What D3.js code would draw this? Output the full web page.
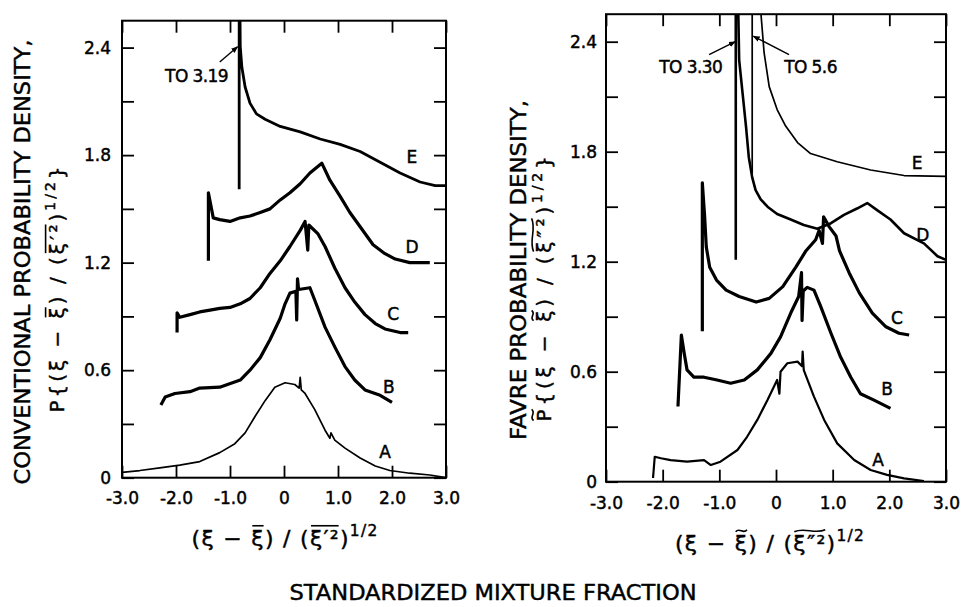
<!DOCTYPE html>
<html>
<head>
<meta charset="utf-8">
<title>standardized mixture fraction pdf</title>
<style>
  body { margin: 0; background: #fff; }
  svg { display: block; }
  text { font-family: "DejaVu Sans", "Liberation Sans", sans-serif; fill: #000; stroke: #000; stroke-width: 0.45px; }
</style>
</head>
<body>
<main></main>
<script src="https://cdn.jsdelivr.net/npm/d3@7"></script>
<script>
// ticks shared by both panels
var xTicks = [-3, -2, -1, 0, 1, 2, 3];
var yTicks = [0, 0.6, 1.2, 1.8, 2.4];
var yMinorTicks = [0.3, 0.9, 1.5, 2.1];
var curveNames = ["A", "B", "C", "D", "E"];

// conventional pdf, left panel  [x, p]
var convA = [[-3.0,0.03],[-2.67,0.04],[-2.30,0.055],[-1.93,0.07],[-1.56,0.09],[-1.19,0.14],[-0.91,0.19],
  [-0.72,0.25],[-0.54,0.34],[-0.35,0.43],[-0.17,0.505],[0.02,0.53],[0.20,0.52],[0.28,0.50],[0.30,0.56],
  [0.32,0.49],[0.39,0.47],[0.57,0.38],[0.76,0.265],[0.85,0.22],[0.87,0.25],[0.94,0.21],[1.13,0.165],
  [1.41,0.11],[1.69,0.065],[1.96,0.04],[2.33,0.025],[2.70,0.015],[3.0,0.0]];
var convB = [[-2.28,0.405],[-2.20,0.45],[-2.02,0.47],[-1.74,0.48],[-1.56,0.50],[-1.19,0.505],[-0.81,0.545],
  [-0.63,0.60],[-0.44,0.67],[-0.26,0.77],[-0.07,0.89],[0.02,0.97],[0.11,1.03],[0.22,1.04],[0.235,0.88],
  [0.25,1.11],[0.27,1.05],[0.48,1.06],[0.57,0.99],[0.76,0.84],[0.94,0.73],[1.13,0.62],[1.31,0.545],
  [1.50,0.49],[1.78,0.46],[2.0,0.42]];
var convC = [[-1.98,0.81],[-1.98,0.92],[-1.93,0.895],[-1.74,0.91],[-1.56,0.925],[-1.37,0.935],[-1.19,0.945],
  [-1.0,0.95],[-0.81,0.97],[-0.63,1.0],[-0.44,1.06],[-0.26,1.14],[-0.07,1.21],[0.11,1.29],[0.30,1.38],
  [0.39,1.43],[0.44,1.27],[0.46,1.41],[0.63,1.36],[0.76,1.29],[0.94,1.17],[1.13,1.06],[1.31,0.98],
  [1.50,0.91],[1.69,0.86],[1.87,0.83],[2.15,0.81],[2.30,0.81]];
var convD = [[-1.40,1.21],[-1.40,1.59],[-1.31,1.45],[-1.19,1.44],[-1.0,1.43],[-0.81,1.45],[-0.63,1.46],
  [-0.44,1.48],[-0.26,1.50],[-0.07,1.55],[0.11,1.59],[0.30,1.64],[0.48,1.70],[0.70,1.755],[0.85,1.66],
  [1.04,1.57],[1.22,1.48],[1.41,1.40],[1.65,1.30],[1.87,1.25],[2.06,1.22],[2.33,1.20],[2.70,1.20]];
var convE = [[-0.83,1.61],[-0.83,3.19],[-0.81,2.405],[-0.78,2.29],[-0.72,2.18],[-0.63,2.09],[-0.51,2.03],
  [-0.35,2.0],[-0.07,1.96],[0.30,1.93],[0.67,1.89],[1.04,1.86],[1.41,1.82],[1.78,1.76],[2.15,1.70],
  [2.52,1.65],[2.80,1.63],[3.0,1.63]];

// favre pdf, right panel  [x, p]
var favA = [[-2.17,0.02],[-2.14,0.136],[-2.03,0.128],[-1.86,0.118],[-1.57,0.109],[-1.27,0.118],[-1.15,0.091],
  [-0.98,0.109],[-0.68,0.173],[-0.51,0.245],[-0.33,0.337],[-0.15,0.446],[0.02,0.555],[0.06,0.48],
  [0.08,0.6],[0.20,0.646],[0.38,0.655],[0.46,0.63],[0.47,0.71],[0.49,0.609],[0.67,0.464],[0.85,0.337],
  [1.08,0.209],[1.38,0.118],[1.67,0.064],[1.96,0.037],[2.26,0.018],[2.61,0.004]];
var favB = [[-1.73,0.41],[-1.67,0.80],[-1.62,0.70],[-1.57,0.61],[-1.45,0.57],[-1.27,0.57],[-1.04,0.555],
  [-0.80,0.537],[-0.56,0.555],[-0.33,0.61],[-0.09,0.70],[0.08,0.79],[0.26,0.92],[0.40,1.01],[0.45,1.14],
  [0.46,0.88],[0.48,1.04],[0.55,1.06],[0.67,1.045],[0.79,0.955],[0.97,0.81],[1.14,0.68],[1.32,0.57],
  [1.49,0.48],[1.73,0.445],[2.02,0.40]];
var favC = [[-1.30,0.82],[-1.30,1.63],[-1.26,1.45],[-1.23,1.28],[-1.17,1.17],[-1.05,1.10],[-0.88,1.045],
  [-0.65,1.01],[-0.35,0.98],[-0.12,1.0],[0.12,1.064],[0.35,1.17],[0.53,1.26],[0.70,1.32],[0.76,1.37],
  [0.82,1.30],[0.84,1.445],[0.94,1.39],[1.06,1.34],[1.12,1.26],[1.29,1.14],[1.47,1.03],[1.70,0.92],
  [1.94,0.845],[2.17,0.81],[2.35,0.80]];
var favD = [[-0.71,1.21],[-0.71,3.30],[-0.65,2.30],[-0.59,2.12],[-0.53,1.94],[-0.48,1.77],[-0.42,1.66],
  [-0.36,1.59],[-0.27,1.54],[-0.15,1.50],[0.02,1.46],[0.26,1.43],[0.49,1.40],[0.73,1.38],[0.97,1.41],
  [1.20,1.455],[1.43,1.49],[1.61,1.52],[1.79,1.48],[2.02,1.43],[2.26,1.355],[2.61,1.30],[2.85,1.23],
  [3.0,1.21]];
var favE = [[-0.42,1.68],[-0.42,5.6],[-0.32,3.0],[-0.27,2.57],[-0.21,2.34],[-0.12,2.155],[0.02,2.03],
  [0.17,1.94],[0.38,1.85],[0.61,1.79],[1.08,1.745],[1.67,1.70],[2.26,1.67],[3.0,1.665]];

var width = 962, height = 607;
var svg = d3.select("main").append("svg")
    .attr("width", width)
    .attr("height", height);

svg.append("defs").append("marker")
    .attr("id", "arrow")
    .attr("viewBox", "0 0 10 10")
    .attr("refX", 9).attr("refY", 5)
    .attr("markerWidth", 7).attr("markerHeight", 7)
    .attr("markerUnits", "userSpaceOnUse")
    .attr("orient", "auto")
    .append("path").attr("d", "M0,1 L10,5 L0,9 z").attr("fill", "#000");

var panels = [
    {id: "conv", left: 122, right: 446, bottom: 477.7, top: 20.7, xPad: 14, yPad: 11,
     curves: [convA, convB, convC, convD, convE], widths: [1.7, 3.2, 3.2, 3.2, 2.8],
     labelAt: [[1.87, 0.143], [1.94, 0.506], [2.02, 0.913], [2.37, 1.287], [2.37, 1.79]],
     notes: [{text: "TO 3.19", at: [-1.62, 2.21], from: [-1.19, 2.32], to: [-0.86, 2.405]}]},
    {id: "fav", left: 606, right: 946, bottom: 481.7, top: 14.2, xPad: 15, yPad: 9,
     curves: [favA, favB, favC, favD, favE], widths: [2.2, 3.2, 3.2, 2.6, 1.7],
     labelAt: [[1.80, 0.118], [1.96, 0.506], [2.135, 0.893], [2.59, 1.346], [2.49, 1.738]],
     notes: [{text: "TO 3.30", at: [-1.505, 2.23], from: [-1.18, 2.33], to: [-0.72, 2.40]},
             {text: "TO 5.6", at: [0.61, 2.23], from: [0.23, 2.33], to: [-0.40, 2.43]}]}
];

function tickFmt(d) {
    if (d === 0) return "0";
    return (d < 0 ? "-" : "") + Math.abs(d).toFixed(1);
}

panels.forEach(function (p) {
    var x = d3.scaleLinear().domain([-3, 3]).range([p.left, p.right]);
    var y = d3.scaleLinear().domain([0, 2.55]).range([p.bottom, p.top]);
    var g = svg.append("g");

    // inward ticks on all four sides
    g.append("g").attr("transform", "translate(0," + p.bottom + ")")
        .call(d3.axisBottom(x).tickValues(xTicks).tickSize(-12).tickSizeOuter(0)
            .tickPadding(p.xPad).tickFormat(tickFmt));
    g.append("g").attr("transform", "translate(0," + p.top + ")")
        .call(d3.axisTop(x).tickValues(xTicks).tickSize(-12).tickSizeOuter(0).tickFormat(""));
    g.append("g").attr("transform", "translate(" + p.left + ",0)")
        .call(d3.axisLeft(y).tickValues(yTicks.concat(yMinorTicks)).tickSize(-12).tickSizeOuter(0)
            .tickPadding(p.yPad).tickFormat(function (d) { return yTicks.indexOf(d) >= 0 ? tickFmt(d) : ""; }));
    g.append("g").attr("transform", "translate(" + p.right + ",0)")
        .call(d3.axisRight(y).tickValues(yTicks.concat(yMinorTicks)).tickSize(-12).tickSizeOuter(0).tickFormat(""));

    g.selectAll(".domain").remove();
    g.selectAll(".tick line").attr("stroke", "#000").attr("stroke-width", 1.8);
    g.selectAll(".tick text").attr("fill", "#000")
        .style("font-family", "'DejaVu Sans', sans-serif").style("font-size", "17px");

    g.append("rect")
        .attr("x", p.left).attr("y", p.top)
        .attr("width", p.right - p.left).attr("height", p.bottom - p.top)
        .attr("fill", "none").attr("stroke", "#000").attr("stroke-width", 2);

    svg.select("defs").append("clipPath").attr("id", "clip-" + p.id)
        .append("rect")
        .attr("x", p.left).attr("y", p.top)
        .attr("width", p.right - p.left).attr("height", p.bottom - p.top);

    var line = d3.line()
        .x(function (d) { return x(d[0]); })
        .y(function (d) { return y(d[1]); });

    g.append("g").attr("clip-path", "url(#clip-" + p.id + ")")
        .selectAll("path")
        .data(p.curves)
        .enter()
        .append("path")
        .attr("d", line)
        .attr("fill", "none")
        .attr("stroke", "#000")
        .attr("stroke-linejoin", "round")
        .attr("stroke-width", function (d, i) { return p.widths[i]; });

    g.selectAll(".curve-label")
        .data(curveNames)
        .enter()
        .append("text")
        .attr("class", "curve-label")
        .attr("x", function (d, i) { return x(p.labelAt[i][0]); })
        .attr("y", function (d, i) { return y(p.labelAt[i][1]); })
        .attr("text-anchor", "middle")
        .attr("dominant-baseline", "central")
        .style("font-size", "17px")
        .text(function (d) { return d; });

    p.notes.forEach(function (n) {
        g.append("text")
            .attr("x", x(n.at[0])).attr("y", y(n.at[1]))
            .attr("text-anchor", "middle")
            .style("font-size", "17px")
            .style("letter-spacing", "-0.6px")
            .text(n.text);
        g.append("line")
            .attr("x1", x(n.from[0])).attr("y1", y(n.from[1]))
            .attr("x2", x(n.to[0])).attr("y2", y(n.to[1]))
            .attr("stroke", "#000").attr("stroke-width", 1.4)
            .attr("marker-end", "url(#arrow)");
    });
});

// text with bars / tildes drawn over chosen pieces
function mathText(tx, ty, rot, size, spacing, parts) {
    var g = svg.append("g").attr("transform", "translate(" + tx + "," + ty + ") rotate(" + rot + ")");
    var t = g.append("text")
        .attr("text-anchor", "middle")
        .style("font-size", size + "px")
        .style("letter-spacing", spacing + "px");
    var raised = false;
    var nodes = [];
    parts.forEach(function (pt) {
        var s = t.append("tspan").text(pt.t);
        if (pt.sup && !raised) { s.attr("dy", -0.45 * size).style("font-size", (size * 0.7) + "px"); raised = true; }
        else if (!pt.sup && raised) { s.attr("dy", 0.45 * size); raised = false; }
        else if (pt.sup) { s.style("font-size", (size * 0.7) + "px"); }
        nodes.push([s.node(), pt]);
    });
    nodes.forEach(function (item) {
        var node = item[0], pt = item[1];
        if (!pt.deco) return;
        var n = pt.t.length;
        var a = node.getStartPositionOfChar(0);
        var b = node.getEndPositionOfChar(n - 1);
        var yb = a.y - size * 0.92;
        var x0 = a.x + 1, x1 = b.x - spacing;
        if (pt.deco === "bar") {
            g.append("line").attr("x1", x0).attr("x2", x1).attr("y1", yb).attr("y2", yb)
                .attr("stroke", "#000").attr("stroke-width", 1.6);
        } else {
            var w = x1 - x0;
            g.append("path")
                .attr("d", "M" + x0 + "," + (yb + 1) + " C" + (x0 + w / 3) + "," + (yb - 4) + " " +
                    (x0 + 2 * w / 3) + "," + (yb + 4) + " " + x1 + "," + (yb - 1))
                .attr("fill", "none").attr("stroke", "#000").attr("stroke-width", 1.6);
        }
    });
}

// axis titles
mathText(285, 546, 0, 22, 1.3, [
    {t: "(ξ − "}, {t: "ξ", deco: "bar"}, {t: ") / ("}, {t: "ξ′²", deco: "bar"}, {t: ")"}, {t: "1/2", sup: true}]);
mathText(770, 551, 0, 22, 1.3, [
    {t: "(ξ − "}, {t: "ξ", deco: "tilde"}, {t: ") / ("}, {t: "ξ″²", deco: "tilde"}, {t: ")"}, {t: "1/2", sup: true}]);

svg.append("text")
    .attr("transform", "translate(30,262) rotate(-90)")
    .attr("text-anchor", "middle")
    .attr("textLength", 445).attr("lengthAdjust", "spacingAndGlyphs")
    .style("font-size", "22px")
    .text("CONVENTIONAL PROBABILITY DENSITY,");
mathText(64, 288, -90, 20, 3, [
    {t: "P{(ξ − "}, {t: "ξ", deco: "bar"}, {t: ") / ("}, {t: "ξ′²", deco: "bar"}, {t: ")"}, {t: "1/2", sup: true}, {t: "}"}]);

svg.append("text")
    .attr("transform", "translate(526,270) rotate(-90)")
    .attr("text-anchor", "middle")
    .attr("textLength", 340).attr("lengthAdjust", "spacingAndGlyphs")
    .style("font-size", "22px")
    .text("FAVRE PROBABILITY DENSITY,");
mathText(551, 287, -90, 20, 3.8, [
    {t: "P", deco: "tilde"}, {t: "{(ξ − "}, {t: "ξ", deco: "tilde"}, {t: ") / ("}, {t: "ξ″²", deco: "tilde"}, {t: ")"}, {t: "1/2", sup: true}, {t: "}"}]);

svg.append("text")
    .attr("x", 493).attr("y", 600)
    .attr("text-anchor", "middle")
    .attr("textLength", 407).attr("lengthAdjust", "spacingAndGlyphs")
    .style("font-size", "22px")
    .text("STANDARDIZED MIXTURE FRACTION");
</script>
</body>
</html>
